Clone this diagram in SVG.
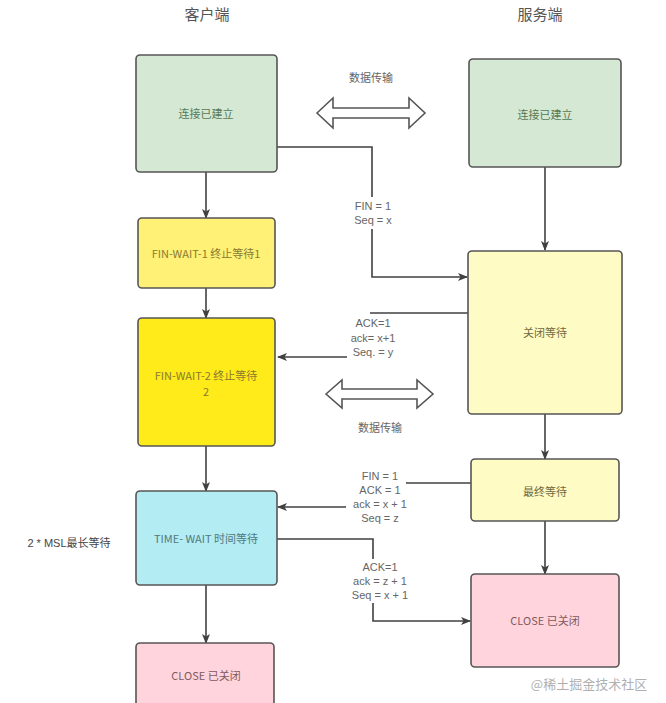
<svg xmlns="http://www.w3.org/2000/svg" width="666" height="703" viewBox="0 0 666 703">
<defs>
<marker id="ah" markerWidth="10" markerHeight="8" refX="9" refY="4" orient="auto" markerUnits="userSpaceOnUse">
<path d="M0,0 L10,4 L0,8 L2.5,4 Z" fill="#404040"/>
</marker>
</defs>
<style>
.box{stroke:#555;stroke-width:1.6}
.t{font-family:"Noto Sans CJK SC","Noto Sans",sans-serif;font-size:11px;text-anchor:middle;dominant-baseline:central}
.lbl{font-family:"Liberation Sans","Noto Sans CJK SC",sans-serif;font-size:11px;fill:#666;text-anchor:middle;dominant-baseline:central}
.hdr{font-family:"Noto Sans CJK SC",sans-serif;font-size:15px;fill:#555;text-anchor:middle;dominant-baseline:central}
.c{fill:none;stroke:#404040;stroke-width:1.6}
.dbl{fill:#fff;stroke:#555;stroke-width:1.6}
</style>
<rect width="666" height="703" fill="#fff"/>
<text class="hdr" x="207" y="13">客户端</text>
<text class="hdr" x="540" y="13">服务端</text>

<g id="connectors">
<line class="c" x1="206" y1="172" x2="206" y2="218" marker-end="url(#ah)"/>
<line class="c" x1="206" y1="288" x2="206" y2="318" marker-end="url(#ah)"/>
<line class="c" x1="206" y1="446" x2="206" y2="491" marker-end="url(#ah)"/>
<line class="c" x1="206" y1="585" x2="206" y2="643" marker-end="url(#ah)"/>
<line class="c" x1="545" y1="167" x2="545" y2="250" marker-end="url(#ah)"/>
<line class="c" x1="545" y1="414" x2="545" y2="459" marker-end="url(#ah)"/>
<line class="c" x1="545" y1="521" x2="545" y2="574" marker-end="url(#ah)"/>
<polyline class="c" points="277,147 372,147 372,197"/>
<polyline class="c" points="372,229 372,277 467,277" marker-end="url(#ah)"/>
<line class="c" x1="468" y1="313" x2="370" y2="313"/>
<line class="c" x1="347" y1="357" x2="278" y2="357" marker-end="url(#ah)"/>
<line class="c" x1="471" y1="483" x2="406" y2="483"/>
<line class="c" x1="346" y1="507" x2="278" y2="507" marker-end="url(#ah)"/>
<polyline class="c" points="277,539 373,539 373,559"/>
<polyline class="c" points="373,603 373,621 470,621" marker-end="url(#ah)"/>
</g>
<g id="labels">
<text class="lbl" x="373" y="206">FIN = 1</text>
<text class="lbl" x="373" y="220">Seq = x</text>
<text class="lbl" x="373" y="323">ACK=1</text>
<text class="lbl" x="373" y="338">ack= x+1</text>
<text class="lbl" x="373" y="352">Seq. = y</text>
<text class="lbl" x="380" y="476">FIN = 1</text>
<text class="lbl" x="380" y="490">ACK = 1</text>
<text class="lbl" x="380" y="504">ack = x + 1</text>
<text class="lbl" x="380" y="518">Seq = z</text>
<text class="lbl" x="380" y="567">ACK=1</text>
<text class="lbl" x="380" y="581">ack = z + 1</text>
<text class="lbl" x="380" y="595">Seq = x + 1</text>
<text class="lbl" x="69" y="543" style="fill:#444">2 * MSL最长等待</text>
</g>

<g id="data1">
<path class="dbl" d="M317,113 L333,98 L333,108 L409,108 L409,98 L425,113 L409,128 L409,118 L333,118 L333,128 Z"/>
<text class="lbl" x="371" y="77" style="font-family:'Noto Sans CJK SC',sans-serif">数据传输</text>
</g>
<g id="data2">
<path class="dbl" d="M326,394 L342,380 L342,389 L417,389 L417,380 L433,394 L417,408 L417,399 L342,399 L342,408 Z"/>
<text class="lbl" x="380" y="427" style="font-family:'Noto Sans CJK SC',sans-serif">数据传输</text>
</g>

<g id="c_established">
<rect class="box" x="136" y="55" width="141" height="117" rx="4" fill="#d5e8d4"/>
<text class="t" x="206" y="113" fill="#557a55">连接已建立</text>
</g>
<g id="c_finwait1">
<rect class="box" x="138" y="218" width="137" height="70" rx="4" fill="#fff176"/>
<text class="t" x="206" y="253" fill="#8a7a30">FIN-WAIT-1 终止等待1</text>
</g>
<g id="c_finwait2">
<rect class="box" x="138" y="318" width="137" height="128" rx="4" fill="#ffeb1a"/>
<text class="t" x="206" y="375" fill="#8a7a30">FIN-WAIT-2 终止等待</text>
<text class="t" x="206" y="391" fill="#8a7a30">2</text>
</g>
<g id="c_timewait">
<rect class="box" x="136" y="491" width="141" height="94" rx="4" fill="#b4ecf3"/>
<text class="t" x="206" y="538" fill="#4f7a80">TIME- WAIT 时间等待</text>
</g>
<g id="c_close">
<rect class="box" x="136" y="643" width="138" height="75" rx="4" fill="#ffd4dc"/>
<text class="t" x="206" y="675" fill="#805a60">CLOSE 已关闭</text>
</g>
<g id="s_established">
<rect class="box" x="469" y="59" width="152" height="108" rx="4" fill="#d5e8d4"/>
<text class="t" x="545" y="114" fill="#557a55">连接已建立</text>
</g>
<g id="s_closewait">
<rect class="box" x="468" y="251" width="154" height="163" rx="4" fill="#fffbc4"/>
<text class="t" x="545" y="332" fill="#6f6a40">关闭等待</text>
</g>
<g id="s_lastack">
<rect class="box" x="471" y="459" width="148" height="62" rx="4" fill="#fffbc4"/>
<text class="t" x="545" y="491" fill="#6f6a40">最终等待</text>
</g>
<g id="s_close">
<rect class="box" x="471" y="574" width="148" height="93" rx="4" fill="#ffd4dc"/>
<text class="t" x="545" y="620" fill="#805a60">CLOSE 已关闭</text>
</g>
<text x="589" y="683" style="font-family:'Noto Sans CJK SC',sans-serif;font-size:13px;fill:#b0b0b0;text-anchor:middle;dominant-baseline:central">@稀土掘金技术社区</text>
</svg>
